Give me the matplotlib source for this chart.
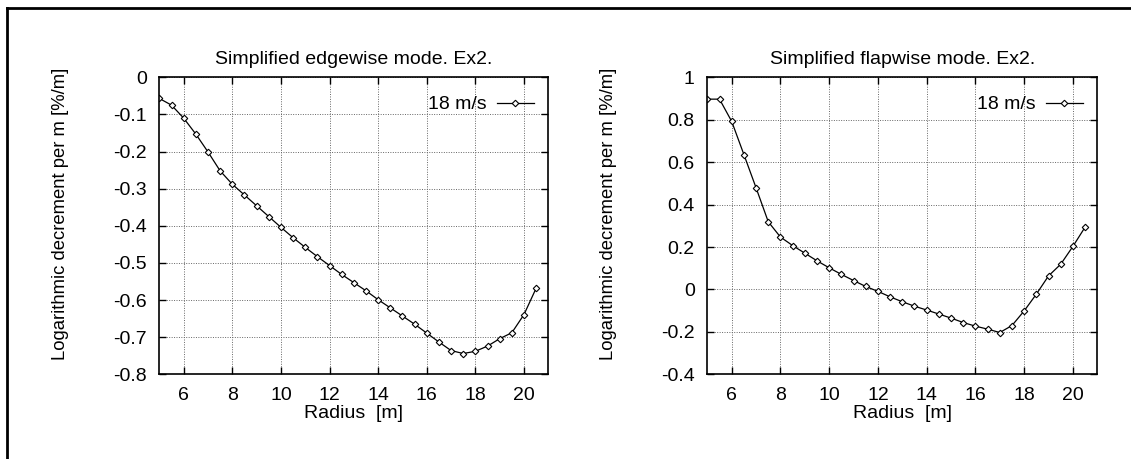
import matplotlib.pyplot as plt
from matplotlib.lines import Line2D

plt.rcParams['font.family'] = ['Liberation Sans', 'DejaVu Sans']

# radius stations [m]
radius = [5.0, 5.5, 6.0, 6.5, 7.0, 7.5, 8.0, 8.5, 9.0, 9.5, 10.0, 10.5,
          11.0, 11.5, 12.0, 12.5, 13.0, 13.5, 14.0, 14.5, 15.0, 15.5, 16.0,
          16.5, 17.0, 17.5, 18.0, 18.5, 19.0, 19.5, 20.0, 20.5]

edgewise = [-0.057, -0.075, -0.110, -0.153, -0.201, -0.252, -0.288, -0.317,
            -0.346, -0.375, -0.404, -0.432, -0.458, -0.483, -0.507, -0.531,
            -0.553, -0.575, -0.599, -0.621, -0.643, -0.665, -0.689, -0.713,
            -0.736, -0.744, -0.738, -0.724, -0.704, -0.688, -0.639, -0.568]

flapwise = [0.897, 0.897, 0.792, 0.636, 0.479, 0.319, 0.247, 0.207, 0.171,
            0.135, 0.102, 0.071, 0.042, 0.014, -0.009, -0.035, -0.058, -0.079,
            -0.097, -0.116, -0.135, -0.156, -0.173, -0.187, -0.203, -0.170,
            -0.101, -0.022, 0.064, 0.119, 0.203, 0.294]

x_ticks = [6, 8, 10, 12, 14, 16, 18, 20]
edge_ticks = [0, -0.1, -0.2, -0.3, -0.4, -0.5, -0.6, -0.7, -0.8]
edge_labels = ['0', '-0.1', '-0.2', '-0.3', '-0.4', '-0.5', '-0.6', '-0.7', '-0.8']
flap_ticks = [1, 0.8, 0.6, 0.4, 0.2, 0, -0.2, -0.4]
flap_labels = ['1', '0.8', '0.6', '0.4', '0.2', '0', '-0.2', '-0.4']

fig = plt.figure(figsize=(11.31, 4.59), dpi=100)

# frame (only top and left edges visible in the original)
fig.add_artist(Line2D([6.5 / 1131, 6.5 / 1131], [0, 1 - 7.5 / 459],
                      transform=fig.transFigure, color='black', lw=2))
fig.add_artist(Line2D([6.5 / 1131, 1], [1 - 7.5 / 459, 1 - 7.5 / 459],
                      transform=fig.transFigure, color='black', lw=2))

ax1 = fig.add_axes([0.1409, 0.1845, 0.3439, 0.6471])
ax2 = fig.add_axes([0.6254, 0.1845, 0.3448, 0.6471])

panels = [
    (ax1, edgewise, 'Simplified edgewise mode. Ex2.', (-0.8, 0), edge_ticks, edge_labels),
    (ax2, flapwise, 'Simplified flapwise mode. Ex2.', (-0.4, 1), flap_ticks, flap_labels),
]

for ax, vals, title, ylim, yt, yl in panels:
    ax.plot(radius, vals, color='black', lw=0.9, marker='D', markersize=3.3,
            markerfacecolor='white', markeredgecolor='black', markeredgewidth=0.8,
            label='18 m/s')
    ax.set_xlim(5, 21)
    ax.set_ylim(*ylim)
    ax.set_xticks(x_ticks)
    ax.set_yticks(yt)
    ax.set_yticklabels(yl)
    ax.grid(True, color='#666666', linestyle=(0, (1, 1.5)), lw=0.7)
    ax.tick_params(axis='both', direction='in', length=5, width=1, top=True,
                   right=True, labelsize=14)
    ax.tick_params(axis='y', pad=9)
    ax.tick_params(axis='x', pad=9)
    for s in ax.spines.values():
        s.set_linewidth(1.2)
    ax.set_title(title, fontsize=14, pad=9.5)
    ax.set_xlabel('Radius  [m]', fontsize=14, labelpad=0.5)
    ax.set_ylabel('Logarithmic decrement per m [%/m]', fontsize=13.3)
    ax.yaxis.set_label_coords(-0.232, 0.54)
    ax.legend(loc='upper right', bbox_to_anchor=(1, 1 - 4 / 297),
              frameon=False, fontsize=14, markerfirst=False,
              handlelength=1.9, borderaxespad=0.35, handletextpad=0.5)

fig.savefig('out.png', dpi=100)
